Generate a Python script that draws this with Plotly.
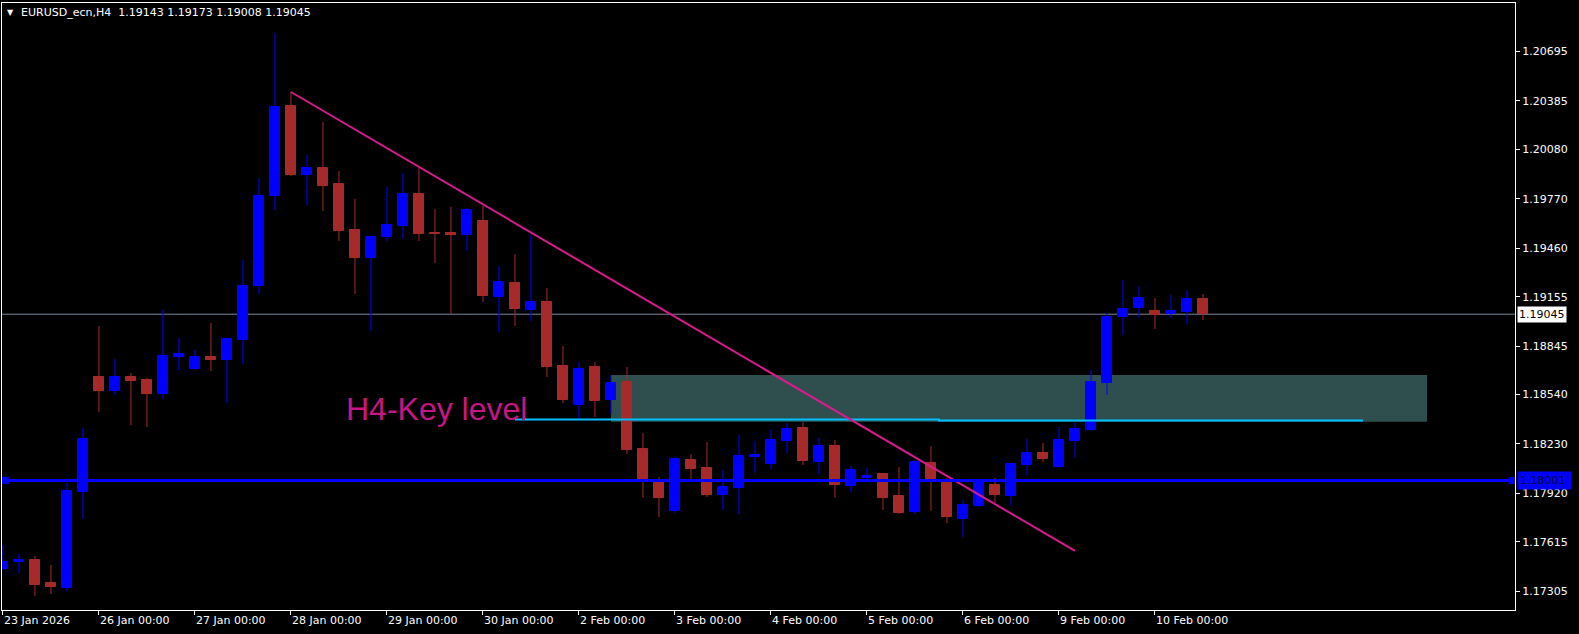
import plotly.graph_objects as go

# EURUSD_ecn H4 candles, 23 Jan 2026 .. 10 Feb 2026
opens = [
    1.17444, 1.17488, 1.17501, 1.17356, 1.17325, 1.17928, 1.18651, 1.18563, 1.18651, 1.18632,
    1.18544, 1.18776, 1.18701, 1.18776, 1.18757, 1.18883, 1.19222, 1.19788, 1.20353, 1.19920,
    1.19964, 1.19863, 1.19574, 1.19398, 1.19530, 1.19599, 1.19800, 1.19555, 1.19555, 1.19543,
    1.19631, 1.19153, 1.19241, 1.19072, 1.19122, 1.18720, 1.18475, 1.18713, 1.18506, 1.18619,
    1.18198, 1.17991, 1.17809, 1.18129, 1.18079, 1.17909, 1.17953, 1.18148, 1.18104, 1.18249,
    1.18330, 1.18117, 1.18217, 1.17966, 1.18016, 1.18041, 1.17903, 1.17803, 1.18110, 1.17997,
    1.17759, 1.17840, 1.17972, 1.17903, 1.18098, 1.18173, 1.18085, 1.18249, 1.18318, 1.18613,
    1.19028, 1.19084, 1.19065, 1.19046, 1.19059, 1.19143,
]
highs = [
    1.17595, 1.17539, 1.17526, 1.17470, 1.17985, 1.18330, 1.18971, 1.18764, 1.18676, 1.18644,
    1.19072, 1.18896, 1.18820, 1.18990, 1.18896, 1.19386, 1.19901, 1.20812, 1.20441, 1.20045,
    1.20253, 1.19945, 1.19769, 1.19536, 1.19844, 1.19932, 1.19964, 1.19706, 1.19719, 1.19712,
    1.19725, 1.19348, 1.19423, 1.19543, 1.19210, 1.18845, 1.18745, 1.18745, 1.18663, 1.18713,
    1.18299, 1.18022, 1.18148, 1.18167, 1.18242, 1.18066, 1.18286, 1.18249, 1.18318, 1.18362,
    1.18368, 1.18267, 1.18255, 1.18092, 1.18079, 1.18048, 1.18085, 1.18129, 1.18217, 1.18016,
    1.17878, 1.17997, 1.18016, 1.18110, 1.18261, 1.18236, 1.18336, 1.18362, 1.18695, 1.19053,
    1.19260, 1.19222, 1.19147, 1.19166, 1.19197, 1.19173,
]
lows = [
    1.17438, 1.17419, 1.17275, 1.17287, 1.17306, 1.17759, 1.18431, 1.18538, 1.18349, 1.18336,
    1.18512, 1.18695, 1.18695, 1.18688, 1.18487, 1.18732, 1.19172, 1.19700, 1.19913, 1.19731,
    1.19693, 1.19505, 1.19172, 1.18940, 1.19505, 1.19518, 1.19505, 1.19367, 1.19046, 1.19442,
    1.19122, 1.18933, 1.18971, 1.19002, 1.18651, 1.18487, 1.18387, 1.18399, 1.18418, 1.18167,
    1.17891, 1.17771, 1.17796, 1.18010, 1.17897, 1.17815, 1.17790, 1.18048, 1.18073, 1.18173,
    1.18098, 1.18035, 1.17891, 1.17928, 1.17985, 1.17815, 1.17790, 1.17790, 1.17809, 1.17733,
    1.17646, 1.17834, 1.17859, 1.17840, 1.18035, 1.18117, 1.18079, 1.18142, 1.18312, 1.18538,
    1.18914, 1.19021, 1.18952, 1.19021, 1.18984, 1.19008,
]
closes = [
    1.17488, 1.17501, 1.17344, 1.17331, 1.17934, 1.18261, 1.18563, 1.18651, 1.18626, 1.18544,
    1.18783, 1.18795, 1.18776, 1.18757, 1.18889, 1.19222, 1.19788, 1.20347, 1.19920, 1.19964,
    1.19850, 1.19568, 1.19398, 1.19530, 1.19605, 1.19800, 1.19549, 1.19549, 1.19543, 1.19700,
    1.19159, 1.19247, 1.19078, 1.19122, 1.18713, 1.18506, 1.18701, 1.18500, 1.18613, 1.18192,
    1.18010, 1.17891, 1.18136, 1.18073, 1.17909, 1.17960, 1.18154, 1.18161, 1.18255, 1.18324,
    1.18123, 1.18217, 1.17972, 1.18066, 1.18029, 1.17891, 1.17796, 1.18117, 1.18010, 1.17771,
    1.17847, 1.17985, 1.17909, 1.18104, 1.18173, 1.18136, 1.18255, 1.18324, 1.18619, 1.19028,
    1.19078, 1.19147, 1.19040, 1.19065, 1.19141, 1.19045,
]

day_ticks = [0, 6, 12, 18, 24, 30, 36, 42, 48, 54, 60, 66, 72]
day_labels = [
    "23 Jan 2026", "26 Jan 00:00", "27 Jan 00:00", "28 Jan 00:00", "29 Jan 00:00",
    "30 Jan 00:00", "2 Feb 00:00", "3 Feb 00:00", "4 Feb 00:00", "5 Feb 00:00",
    "6 Feb 00:00", "9 Feb 00:00", "10 Feb 00:00",
]
price_ticks = [1.20695, 1.20385, 1.20080, 1.19770, 1.19460, 1.19155,
               1.18845, 1.18540, 1.18230, 1.17920, 1.17615, 1.17305]

bid_price = 1.19045
support_price = 1.18001
zone_bars = [38, 89]
zone_prices = [1.18370, 1.18663]
key_bars = [32, 58.5, 58.5, 85]
key_prices = [1.18383, 1.18383, 1.18377, 1.18377]
trend_bars = [18, 67]
trend_prices = [1.20441, 1.17558]

BULL = "#0000FF"
BEAR = "#A52A2A"
FONT = "DejaVu Sans"

idx = list(range(len(opens)))
bull = [i for i in idx if closes[i] >= opens[i]]
bear = [i for i in idx if closes[i] < opens[i]]

fig = go.Figure()

# key zone
fig.add_shape(type="rect", xref="x", yref="y", x0=zone_bars[0], x1=zone_bars[1],
              y0=zone_prices[0], y1=zone_prices[1], fillcolor="#2F4F4F",
              line=dict(width=0), layer="below")
# bid line
fig.add_shape(type="line", xref="paper", yref="y", x0=0, x1=1, y0=bid_price, y1=bid_price,
              line=dict(color="#778899", width=1), layer="below")


def wicks(ids):
    xs, ys = [], []
    for i in ids:
        xs += [i, i, None]
        ys += [lows[i], highs[i], None]
    return xs, ys


for ids, col in [(bull, BULL), (bear, BEAR)]:
    wx, wy = wicks(ids)
    fig.add_trace(go.Scatter(x=wx, y=wy, mode="lines", line=dict(color=col, width=1),
                             hoverinfo="skip"))
    fig.add_trace(go.Bar(
        x=ids,
        base=[min(opens[i], closes[i]) for i in ids],
        y=[abs(closes[i] - opens[i]) for i in ids],
        width=0.64,
        marker=dict(color=col, line=dict(color=col, width=1)),
        hoverinfo="skip",
    ))

# key level line
fig.add_trace(go.Scatter(x=key_bars, y=key_prices, mode="lines",
                         line=dict(color="#00BFFF", width=2), hoverinfo="skip"))
# trend line
fig.add_trace(go.Scatter(x=trend_bars, y=trend_prices, mode="lines",
                         line=dict(color="#DA1A8E", width=2), hoverinfo="skip"))

# support line
fig.add_shape(type="line", xref="paper", yref="y", x0=0, x1=1, y0=support_price, y1=support_price,
              line=dict(color=BULL, width=3))
fig.add_trace(go.Scatter(x=[0.14, 94.32], y=[support_price] * 2, mode="markers",
                         marker=dict(symbol="square", size=7, color=BULL),
                         cliponaxis=False, hoverinfo="skip"))
fig.add_trace(go.Scatter(x=[0.14, 94.32], y=[support_price] * 2, mode="markers",
                         marker=dict(symbol="square", size=1.5, color="white"),
                         cliponaxis=False, hoverinfo="skip"))

fig.add_annotation(x=21.5, y=1.18450, xref="x", yref="y", text="H4-Key level",
                   showarrow=False, xanchor="left", yanchor="middle", xshift=-3,
                   font=dict(family="Liberation Sans", size=32, color="#C71585"))

# header
fig.add_annotation(x=0, y=1, xref="paper", yref="paper", xanchor="left", yanchor="middle",
                   xshift=3, yshift=-9.5, showarrow=False, text="▼",
                   font=dict(family=FONT, size=8, color="white"))
fig.add_annotation(x=0, y=1, xref="paper", yref="paper", xanchor="left", yanchor="middle",
                   xshift=17, yshift=-9.5, showarrow=False,
                   text="EURUSD_ecn,H4  %.5f %.5f %.5f %.5f" % (opens[-1], highs[-1], lows[-1], closes[-1]),
                   font=dict(family=FONT, size=11, color="white"))

# price boxes on the axis
fig.add_annotation(x=1, y=bid_price, xref="paper", yref="y", xanchor="left", yanchor="middle",
                   xshift=2, showarrow=False, text="%.5f" % bid_price, bgcolor="white",
                   borderpad=1, font=dict(family=FONT, size=11, color="black"))
fig.add_annotation(x=1, y=support_price, xref="paper", yref="y", xanchor="left", yanchor="middle",
                   xshift=2, showarrow=False, text="%.5f&nbsp;" % support_price, bgcolor=BULL,
                   borderpad=2, font=dict(family=FONT, size=11, color="#000040"))

fig.update_layout(
    width=1579, height=634,
    margin=dict(l=2, r=64, t=3, b=24),
    paper_bgcolor="black", plot_bgcolor="black",
    showlegend=False, barmode="overlay", bargap=0,
    font=dict(family=FONT, size=11, color="white"),
    hovermode=False,
)
fig.update_xaxes(
    range=[-0.06, 94.5], showgrid=False, zeroline=False,
    showline=True, linecolor="white", linewidth=1, mirror=True,
    tickmode="array", tickvals=day_ticks, ticktext=day_labels,
    ticks="outside", ticklen=4, tickcolor="white", tickwidth=1,
    ticklabelposition="outside right",
    tickfont=dict(family=FONT, size=11, color="white"),
)
fig.update_yaxes(
    range=[1.17187, 1.21000], side="right", showgrid=False, zeroline=False,
    showline=True, linecolor="white", linewidth=1, mirror=True,
    tickmode="array", tickvals=price_ticks, tickformat=".5f",
    ticks="outside", ticklen=4, tickcolor="white", tickwidth=1,
    tickfont=dict(family=FONT, size=11, color="white"),
)

fig.write_html("out.html", config={"displayModeBar": False},
               post_script="document.body.style.margin='0';")
